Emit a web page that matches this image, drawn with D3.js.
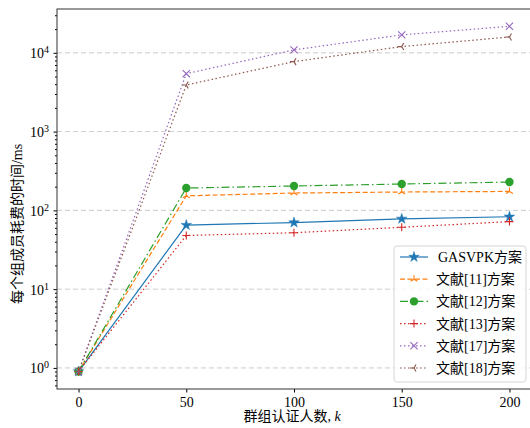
<!DOCTYPE html>
<html lang="zh">
<head>
<meta charset="UTF-8">
<title>chart</title>
<script src="https://cdn.jsdelivr.net/npm/d3@7"></script>
<style>
  body { margin: 0; background: #fff; }
  text { font-family: "Liberation Serif", "Noto Sans CJK SC", serif; }
</style>
</head>
<body>
<script>
    const ks = [0, 50, 100, 150, 200]
    const gasvpk = [0.9, 65, 70, 78, 83]
    const ref11 = [0.9, 153, 166, 171, 174]
    const ref12 = [0.9, 192, 204, 216, 229]
    const ref13 = [0.9, 48, 52, 61, 72]
    const ref17 = [0.9, 5440, 10900, 16900, 21700]
    const ref18 = [0.9, 3910, 7730, 12000, 15900]
    const names = ['GASVPK方案', '文献[11]方案', '文献[12]方案', '文献[13]方案', '文献[17]方案', '文献[18]方案']
    const xTicks = [0, 50, 100, 150, 200]
    const yTicks = [0, 1, 2, 3, 4]

    const series = [
        {name: names[0], values: gasvpk, color: '#1f77b4', dash: null, marker: 'star'},
        {name: names[1], values: ref11, color: '#ff7f0e', dash: '5,2.5', marker: 'tri_up'},
        {name: names[2], values: ref12, color: '#2ca02c', dash: '8,3,1.5,3', marker: 'circle'},
        {name: names[3], values: ref13, color: '#d62728', dash: '1.5,2.5', marker: 'plus'},
        {name: names[4], values: ref17, color: '#9467bd', dash: '1.5,2.5', marker: 'x'},
        {name: names[5], values: ref18, color: '#8c564b', dash: '1.5,2.5', marker: 'tri_left'},
    ]

    const [width, height] = [530, 428]
    const m = {left: 57, top: 9, right: 531, bottom: 389}
    const svg = d3.select('body').append('svg')
        .attr('width', width)
        .attr('height', height)

    const x = d3.scaleLinear().domain([-10, 210]).range([m.left, m.right])
    const y = d3.scaleLog().domain([0.54, 36000]).range([m.bottom, m.top])

    // grid
    svg.append('g').selectAll('line')
        .data(yTicks)
        .enter().append('line')
        .attr('x1', m.left).attr('x2', m.right)
        .attr('y1', d => y(Math.pow(10, d))).attr('y2', d => y(Math.pow(10, d)))
        .attr('stroke', '#b0b0b0').attr('stroke-width', 0.8)
        .attr('stroke-dasharray', '5,3').attr('opacity', 0.8)

    // axes
    const xAxis = d3.axisBottom(x).tickValues(xTicks).tickSize(3.5).tickPadding(5)
    svg.append('g').attr('transform', `translate(0,${m.bottom})`).call(xAxis)
        .call(g => g.select('.domain').remove())
        .call(g => g.selectAll('text').attr('font-size', 14).attr('fill', '#000'))

    const minor = []
    for (let e = -1; e <= 4; e++) {
        for (let k = 2; k <= 9; k++) {
            const v = k * Math.pow(10, e)
            if (v >= 0.54 && v <= 36000) minor.push(v)
        }
    }
    const yMinor = d3.axisLeft(y).tickValues(minor).tickSize(2).tickFormat('')
    svg.append('g').attr('transform', `translate(${m.left},0)`).call(yMinor)
        .call(g => g.select('.domain').remove())
    const yAxis = d3.axisLeft(y).tickValues(yTicks.map(d => Math.pow(10, d))).tickSize(3.5).tickFormat('')
    const yg = svg.append('g').attr('transform', `translate(${m.left},0)`).call(yAxis)
    yg.select('.domain').remove()
    yg.selectAll('.tick').append('text')
        .attr('x', -8).attr('dy', '0.35em')
        .attr('text-anchor', 'end').attr('font-size', 14).attr('fill', '#000')
        .each(function (d) {
            const t = d3.select(this)
            t.append('tspan').text('10')
            t.append('tspan').attr('dy', '-0.5em').attr('font-size', 10).text(Math.round(Math.log10(d)))
        })

    // frame
    svg.append('rect')
        .attr('x', m.left).attr('y', m.top)
        .attr('width', m.right - m.left).attr('height', m.bottom - m.top)
        .attr('fill', 'none').attr('stroke', '#333').attr('stroke-width', 1)

    // markers
    const drawMarker = (g, type, color) => {
        if (type === 'star') {
            g.append('path').attr('d', d3.symbol(d3.symbolStar, 34)())
                .attr('fill', color).attr('stroke', color).attr('stroke-width', 0.5)
        } else if (type === 'circle') {
            g.append('circle').attr('r', 4.2).attr('fill', color)
        } else if (type === 'plus') {
            const r = 4
            g.append('path').attr('d', `M${-r},0H${r}M0,${-r}V${r}`)
                .attr('stroke', color).attr('stroke-width', 1.1).attr('fill', 'none')
        } else if (type === 'x') {
            const r = 3.6
            g.append('path').attr('d', `M${-r},${-r}L${r},${r}M${-r},${r}L${r},${-r}`)
                .attr('stroke', color).attr('stroke-width', 1.1).attr('fill', 'none')
        } else if (type === 'tri_up') {
            const r = 4
            g.append('path').attr('d', `M0,0V${-r}M0,0L${r * 0.87},${r * 0.5}M0,0L${-r * 0.87},${r * 0.5}`)
                .attr('stroke', color).attr('stroke-width', 1.1).attr('fill', 'none')
        } else if (type === 'tri_left') {
            const r = 4
            g.append('path').attr('d', `M0,0H${-r}M0,0L${r * 0.5},${-r * 0.87}M0,0L${r * 0.5},${r * 0.87}`)
                .attr('stroke', color).attr('stroke-width', 1.1).attr('fill', 'none')
        }
    }

    const line = d3.line().x((d, i) => x(ks[i])).y(d => y(d))
    series.forEach(s => {
        svg.append('path')
            .attr('d', line(s.values))
            .attr('fill', 'none')
            .attr('stroke', s.color).attr('stroke-width', 1.2)
            .attr('stroke-dasharray', s.dash)
        s.values.forEach((v, i) => {
            const g = svg.append('g').attr('transform', `translate(${x(ks[i])},${y(v)})`)
            drawMarker(g, s.marker, s.color)
        })
    })

    // legend
    const lg = svg.append('g').attr('transform', 'translate(394,246)')
    lg.append('rect').attr('width', 132).attr('height', 136).attr('rx', 3)
        .attr('fill', '#fff').attr('fill-opacity', 0.8)
        .attr('stroke', '#ccc').attr('stroke-width', 0.8)
    series.forEach((s, i) => {
        const row = lg.append('g').attr('transform', `translate(0,${11 + i * 22.2})`)
        row.append('line').attr('x1', 6).attr('x2', 34)
            .attr('stroke', s.color).attr('stroke-width', 1.2)
            .attr('stroke-dasharray', s.dash)
        drawMarker(row.append('g').attr('transform', 'translate(20,0)'), s.marker, s.color)
        row.append('text').attr('x', i === 0 ? 44 : 42).attr('dy', '0.35em')
            .attr('font-size', 14).attr('fill', '#000').text(s.name)
    })

    // labels
    svg.append('text')
        .attr('x', 292).attr('y', 421)
        .attr('text-anchor', 'middle').attr('font-size', 14)
        .call(t => {
            t.append('tspan').text('群组认证人数, ')
            t.append('tspan').attr('font-style', 'italic').text('k')
        })
    svg.append('text')
        .attr('transform', `translate(22,224) rotate(-90)`)
        .attr('text-anchor', 'middle').attr('font-size', 14)
        .text('每个组成员耗费的时间/ms')
</script>
</body>
</html>
